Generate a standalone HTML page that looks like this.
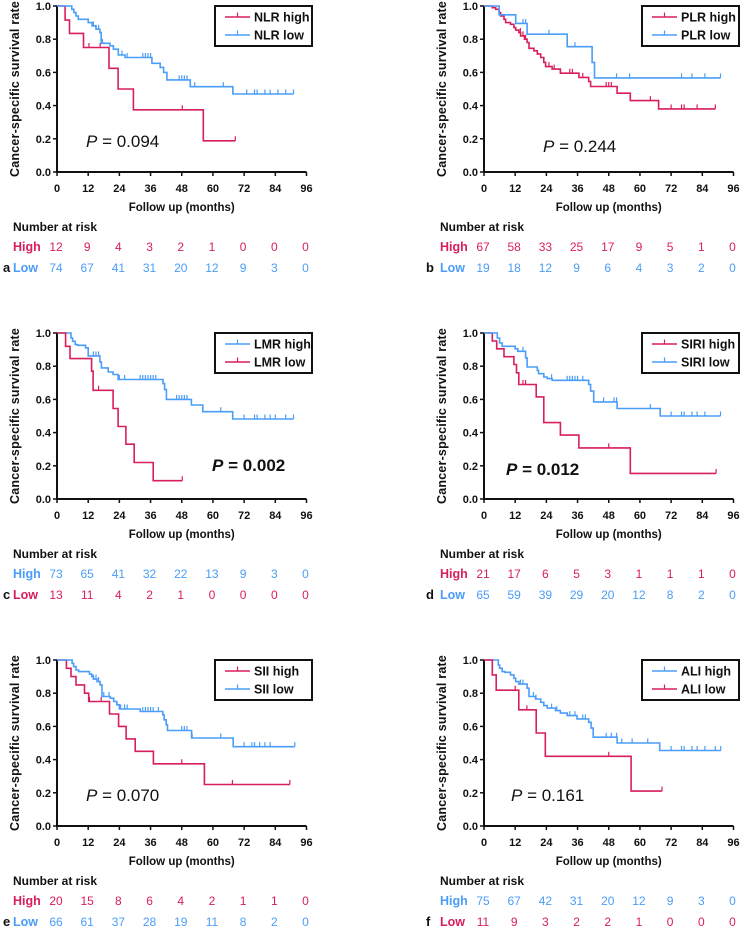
<!DOCTYPE html>
<html><head><meta charset="utf-8"><style>
html,body{margin:0;padding:0;background:#fff;}
svg{display:block;font-family:"Liberation Sans",Arial,sans-serif;}
.tk{font-size:11px;font-weight:bold;fill:#111;}
.ttl{font-size:11.5px;font-weight:bold;fill:#111;}
.ytl{font-size:12.5px;font-weight:bold;fill:#111;letter-spacing:0.2px;}
.risk{font-size:12px;}
</style></head><body>
<svg id="fig" width="742" height="928" viewBox="0 0 742 928"></svg>
<script>
const RED = "#d81e5b", BLUE = "#4a9df8";
const xTicks = [0,12,24,36,48,60,72,84,96];
const yTicks = [0,0.2,0.4,0.6,0.8,1.0];

// Panel a: NLR
const nlrHighT = [3.1,4.8,10.2,20,23.5,29.4,56.3];
const nlrHighS = [0.915,0.835,0.75,0.625,0.5,0.375,0.188];
const nlrHighC = [12.3,16.6,48.2,68.6];
const nlrLowT = [5.7,6.5,7.3,8.2,12,13.5,15,16.5,17,20.4,21.7,23.6,26.2,36.5,39.7,41,42.3,51.3,67.7];
const nlrLowS = [0.98,0.96,0.94,0.92,0.9,0.88,0.86,0.84,0.775,0.76,0.74,0.705,0.69,0.655,0.63,0.6,0.555,0.514,0.47];
const nlrLowC = [14,15,16,17.5,25,27,33,34,35,36,47,48,49,50,53,64,73,76,77,80,82,85,88,91];
const nlrRiskHigh = [12,9,4,3,2,1,0,0,0];
const nlrRiskLow = [74,67,41,31,20,12,9,3,0];

// Panel b: PLR
const plrHighT = [3.2,4.5,5.8,6.4,7.7,8.3,10.2,11.5,12.2,13.4,14.1,15.6,16.6,17.3,19.2,20.5,21.8,23,23.7,26.2,29.4,36.5,40.3,41,51.2,56.3,67.2];
const plrHighS = [0.99,0.98,0.96,0.94,0.92,0.9,0.89,0.87,0.855,0.84,0.82,0.8,0.78,0.745,0.73,0.71,0.69,0.66,0.635,0.62,0.595,0.57,0.545,0.515,0.475,0.43,0.38];
const plrHighC = [14,15,16,25,27,33,34,38,47,48,49,64,72,76,77,82,89];
const plrLowT = [5.8,12.2,16.6,32,41.6,42.5];
const plrLowS = [0.947,0.895,0.83,0.755,0.66,0.567];
const plrLowC = [15,16,25,35,51,56,76,80,85,91];
const plrRiskHigh = [67,58,33,25,17,9,5,1,0];
const plrRiskLow = [19,18,12,9,6,4,3,2,0];

// Panel c: LMR
const lmrHighT = [5.4,6,7,8,11,12,16.5,17.1,19.7,21.6,23.5,40.8,41.4,42.1,51.7,56.1,67.6];
const lmrHighS = [0.97,0.95,0.93,0.926,0.91,0.862,0.826,0.79,0.765,0.75,0.72,0.695,0.66,0.6,0.566,0.526,0.482];
const lmrHighC = [14,15,16,24,26,32,33,34,35,36,37,38,46,47,48,49,50,63,72,76,77,80,82,84,88,91];
const lmrLowT = [3.3,5,13.3,13.9,21.6,23.5,26.5,29.7,37];
const lmrLowS = [0.92,0.846,0.77,0.655,0.545,0.437,0.33,0.22,0.11];
const lmrLowC = [16,48.2];
const lmrRiskHigh = [73,65,41,32,22,13,9,3,0];
const lmrRiskLow = [13,11,4,2,1,0,0,0,0];

// Panel d: SIRI
const siriHighT = [3.2,4.9,7.7,11.5,12.5,13.4,20.1,23,29.4,36.5,56.3];
const siriHighS = [0.952,0.905,0.857,0.81,0.76,0.69,0.615,0.46,0.385,0.308,0.154];
const siriHighC = [15,16,48,89.3];
const siriLowT = [5.1,6,7,8,12,13,16,16.6,20.5,21,23,24.3,26.2,40.3,41,42.2,51.2,67.8];
const siriLowS = [0.97,0.94,0.92,0.92,0.905,0.89,0.85,0.795,0.775,0.755,0.735,0.725,0.715,0.69,0.65,0.585,0.545,0.5];
const siriLowC = [15,16,26,32,33,34,35,36,38,46,50,51,64,72,76,77,80,82,85,91];
const siriRiskHigh = [21,17,6,5,3,1,1,1,0];
const siriRiskLow = [65,59,39,29,20,12,8,2,0];

// Panel e: SII
const siiHighT = [3.6,5.4,7.3,10.6,12.2,20.2,23.7,26.6,30.1,37.1,56.7];
const siiHighS = [0.95,0.9,0.85,0.8,0.75,0.675,0.6,0.525,0.45,0.375,0.25];
const siiHighC = [12.5,17,48,67.5,89.6];
const siiLowT = [5.8,6.4,7.3,8.3,12.5,13.4,14,15.4,16.6,17.3,20.5,21.8,23,24,32,40.7,41.2,42,42.5,51.8,67.8];
const siiLowS = [0.98,0.96,0.94,0.93,0.915,0.9,0.885,0.87,0.85,0.78,0.77,0.75,0.73,0.705,0.69,0.67,0.64,0.61,0.575,0.53,0.478];
const siiLowC = [14,15,16,18,20,24.5,26,27,33,34,35,36,37,39,48,49,50,52,63,72,75,76,78,80,82,91.5];
const siiRiskHigh = [20,15,8,6,4,2,1,1,0];
const siiRiskLow = [66,61,37,28,19,11,8,2,0];

// Panel f: ALI
const aliHighT = [5.5,6,7,8,10.2,11.5,12.2,13.4,16.6,17.3,19.8,21.8,23,24.3,27.5,29.4,32,35.8,40.3,41.2,42,51.2,67.6];
const aliHighS = [0.97,0.95,0.93,0.926,0.91,0.89,0.87,0.855,0.83,0.78,0.765,0.745,0.725,0.71,0.695,0.68,0.665,0.645,0.625,0.59,0.535,0.5,0.455];
const aliHighC = [14,15,19,20,26,28,33,35,38,39,47,49,51,53,57,63,72,76,77,80,82,85,89,91.1];
const aliLowT = [3.2,4.7,13.4,20.1,23.6,56.6];
const aliLowS = [0.91,0.818,0.7,0.56,0.42,0.21];
const aliLowC = [12,16.5,48,68.5];
const aliRiskHigh = [75,67,42,31,20,12,9,3,0];
const aliRiskLow = [11,9,3,2,2,1,0,0,0];

const svg = document.getElementById('fig');
const NS = "http://www.w3.org/2000/svg";
function mk(tag, attrs, parent, text){
  const e = document.createElementNS(NS, tag);
  for (const k in attrs) e.setAttribute(k, attrs[k]);
  if (text !== undefined) e.textContent = text;
  (parent || svg).appendChild(e);
  return e;
}
const W = 249.5, H = 166;

function survAt(T,S,t){ let s=1; for(let i=0;i<T.length;i++){ if(T[i]<=t) s=S[i]; } return s; }

function panel(p){
  const g = mk('g', {});
  
  
  const ox = p.ox, oy = p.oy;
  const xs = t => ox + t / 96 * W;
  const ys = v => oy + (1 - v) * H;
  const ax = mk('path', {d:`M${ox},${oy} V${oy+H} H${ox+W}`, stroke:'#111', 'stroke-width':2, fill:'none'}, g);
  
  
  yTicks.forEach(v => {
    mk('line', {x1:ox-4, x2:ox, y1:ys(v), y2:ys(v), stroke:'#111', 'stroke-width':1.5}, g);
    const t = mk('text', {x:ox-6, y:ys(v)+4, 'text-anchor':'end', class:'tk'}, g, v.toFixed(1));
    
    
  });
  xTicks.forEach(v => {
    mk('line', {x1:xs(v), x2:xs(v), y1:oy+H, y2:oy+H+4, stroke:'#111', 'stroke-width':1.5}, g);
    const t = mk('text', {x:xs(v), y:oy+H+20, 'text-anchor':'middle', class:'tk'}, g, v);
    
    
  });
  const yt = mk('text', {x:0, y:0, 'text-anchor':'middle', class:'ytl', transform:`translate(${ox-38},${oy+H/2}) rotate(-90)`}, g, 'Cancer-specific survival rate');
  
  
  const xt = mk('text', {x:ox+W/2, y:oy+H+39, 'text-anchor':'middle', class:'ttl'}, g, 'Follow up (months)');
  
  
  p.series.forEach(s => {
    let d = `M${xs(0)},${ys(1)}`;
    s.T.forEach((t,i) => { d += ` H${xs(t).toFixed(1)} V${ys(s.S[i]).toFixed(1)}`; });
    const end = Math.max(...s.C, s.T[s.T.length-1]);
    d += ` H${xs(end).toFixed(1)}`;
    const path = mk('path', {d, stroke:s.color, 'stroke-width':1.6, fill:'none'}, g);
    
    
    s.C.forEach(c => {
      const y = ys(survAt(s.T, s.S, c));
      const m = mk('line', {x1:xs(c), x2:xs(c), y1:y, y2:y-4.5, stroke:s.color, 'stroke-width':1.2}, g);
      
      
    });
  });
  const lg = mk('g', {}, g);
  
  
  mk('rect', {x:ox+158, y:oy, width:97, height:40, fill:'#fff', stroke:'#111', 'stroke-width':2}, lg);
  p.series.forEach((s,i) => {
    const yy = oy + 11 + i*18;
    mk('line', {x1:ox+168, x2:ox+193, y1:yy, y2:yy, stroke:s.color, 'stroke-width':1.6}, lg);
    mk('line', {x1:ox+180.5, x2:ox+180.5, y1:yy, y2:yy-4.5, stroke:s.color, 'stroke-width':1.2}, lg);
    const lt = mk('text', {x:ox+197, y:yy+4.5, class:'ttl', style:'font-size:12.5px'}, lg, s.label);
    
    
  });
  const pt = mk('text', {x:ox+p.px, y:oy+p.py, style:`font-size:17px;font-weight:${p.bold?'bold':'normal'};fill:#111`}, g);
  
  
  mk('tspan', {'font-style':'italic'}, pt, 'P');
  mk('tspan', {}, pt, ' = ' + p.pval);
  const nr = mk('text', {x:ox-44, y:oy+225, class:'ttl', style:'font-size:12px'}, g, 'Number at risk');
  
  
  const rows = [['High', p.riskHigh, p.highColor, 245], ['Low', p.riskLow, p.lowColor, 266]];
  rows.forEach(r => {
    const lb = mk('text', {x:ox-44, y:oy+r[3], class:'ttl', style:`font-size:12.5px;fill:${r[2]}`}, g, r[0]);
    
    
    r[1].forEach((n,i) => {
      const nt = mk('text', {x:xs(xTicks[i])-1, y:oy+r[3], 'text-anchor':'middle', class:'risk', fill:r[2]}, g, n);
      
      
    });
  });
  const pl = mk('text', {x:ox-p.lx, y:oy+266, class:'ttl', style:'font-size:13px'}, g, p.letter);
  
  
}

const L = 57, R = 484, R1 = 6, R2 = 333, R3 = 660;
panel({letter:'a', ox:L, oy:R1, px:29, py:141, pval:'0.094', lx:54, highColor:RED, lowColor:BLUE,
  riskHigh:nlrRiskHigh, riskLow:nlrRiskLow,
  series:[{name:'nlr-high', label:'NLR high', color:RED, T:nlrHighT, S:nlrHighS, C:nlrHighC},
          {name:'nlr-low', label:'NLR low', color:BLUE, T:nlrLowT, S:nlrLowS, C:nlrLowC}]});
panel({letter:'b', ox:R, oy:R1, px:59, py:146, pval:'0.244', lx:58, highColor:RED, lowColor:BLUE,
  riskHigh:plrRiskHigh, riskLow:plrRiskLow,
  series:[{name:'plr-high', label:'PLR high', color:RED, T:plrHighT, S:plrHighS, C:plrHighC},
          {name:'plr-low', label:'PLR  low', color:BLUE, T:plrLowT, S:plrLowS, C:plrLowC}]});
panel({letter:'c', ox:L, oy:R2, px:155, py:138, pval:'0.002', bold:true, lx:54, highColor:BLUE, lowColor:RED,
  riskHigh:lmrRiskHigh, riskLow:lmrRiskLow,
  series:[{name:'lmr-high', label:'LMR high', color:BLUE, T:lmrHighT, S:lmrHighS, C:lmrHighC},
          {name:'lmr-low', label:'LMR low', color:RED, T:lmrLowT, S:lmrLowS, C:lmrLowC}]});
panel({letter:'d', ox:R, oy:R2, px:22, py:142, pval:'0.012', bold:true, lx:58, highColor:RED, lowColor:BLUE,
  riskHigh:siriRiskHigh, riskLow:siriRiskLow,
  series:[{name:'siri-high', label:'SIRI high', color:RED, T:siriHighT, S:siriHighS, C:siriHighC},
          {name:'siri-low', label:'SIRI low', color:BLUE, T:siriLowT, S:siriLowS, C:siriLowC}]});
panel({letter:'e', ox:L, oy:R3, px:29, py:141, pval:'0.070', lx:54, highColor:RED, lowColor:BLUE,
  riskHigh:siiRiskHigh, riskLow:siiRiskLow,
  series:[{name:'sii-high', label:'SII high', color:RED, T:siiHighT, S:siiHighS, C:siiHighC},
          {name:'sii-low', label:'SII low', color:BLUE, T:siiLowT, S:siiLowS, C:siiLowC}]});
panel({letter:'f', ox:R, oy:R3, px:27, py:141, pval:'0.161', lx:58, highColor:BLUE, lowColor:RED,
  riskHigh:aliRiskHigh, riskLow:aliRiskLow,
  series:[{name:'ali-high', label:'ALI high', color:BLUE, T:aliHighT, S:aliHighS, C:aliHighC},
          {name:'ali-low', label:'ALI low', color:RED, T:aliLowT, S:aliLowS, C:aliLowC}]});
</script>
</body></html>
